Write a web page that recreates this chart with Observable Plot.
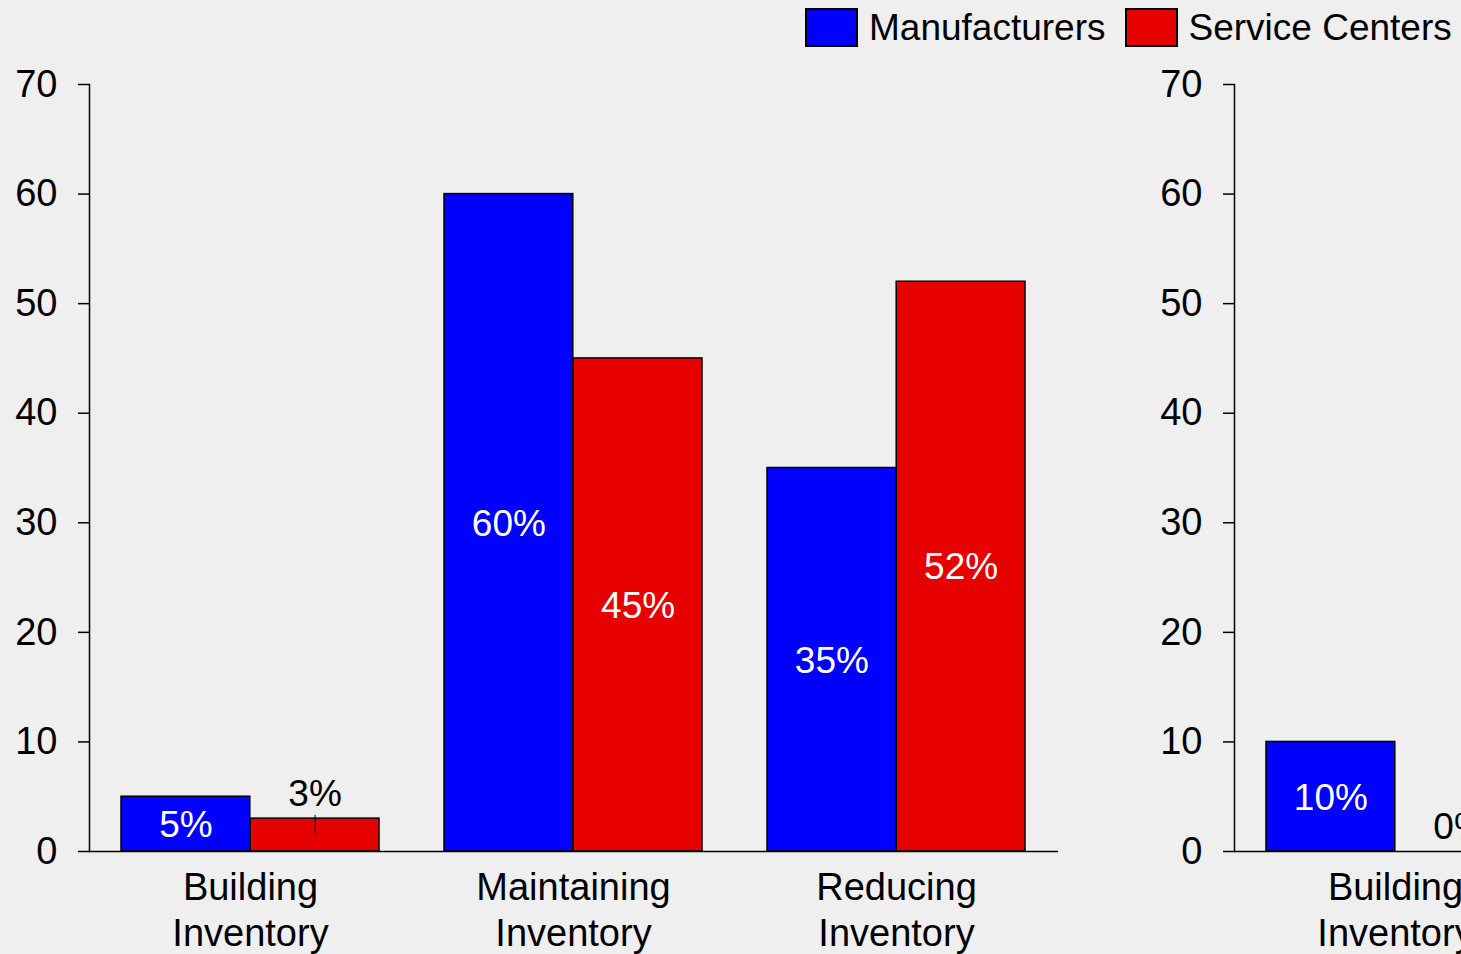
<!DOCTYPE html>
<html>
<head>
<meta charset="utf-8">
<script src="https://cdn.jsdelivr.net/npm/d3@7"></script>
<script src="https://cdn.jsdelivr.net/npm/@observablehq/plot@0.6"></script>
<style>
  html, body { margin: 0; padding: 0; background: #efefef; overflow: hidden; }
  #wrap { width: 1461px; height: 954px; overflow: hidden; position: relative; background: #efefef;
          font-family: "Liberation Sans", Arial, sans-serif; }
  #legend { height: 55px; position: relative; }
  #legend .row { position: absolute; left: 805px; top: 8px; height: 39px; display: flex; align-items: center;
                 font-size: 37px; color: #000; white-space: nowrap; }
  #legend .sw { width: 53px; height: 39px; box-sizing: border-box; border: 2px solid #000; margin-right: 11px; }
  #legend .lab { margin-right: 19px; }
  #panels { display: flex; width: 2290px; }
  #panels > div { flex: none; }
  #panels svg { max-width: none !important; display: block; }
</style>
</head>
<body>
<div id="wrap">
  <div id="legend"><div class="row" id="legendRow"></div></div>
  <div id="panels"><div id="p1"></div><div id="p2"></div></div>
</div>
<script>
// ---- data ----
const categories = ["Building Inventory", "Maintaining Inventory", "Reducing Inventory"];
const seriesNames = ["Manufacturers", "Service Centers"];
const seriesColors = ["#0000ff", "#e60000"];
const panel1Manufacturers = [5, 60, 35];
const panel1ServiceCenters = [3, 45, 52];
const panel2Categories = ["Building Inventory"];
const panel2Manufacturers = [10];
const panel2ServiceCenters = [0];
const yTicks = [0, 10, 20, 30, 40, 50, 60, 70];
const yDomain = [0, 70];

// ---- legend ----
const legendRow = document.getElementById("legendRow");
seriesNames.forEach((s, i) => {
  const sw = document.createElement("div");
  sw.className = "sw"; sw.style.background = seriesColors[i];
  const lab = document.createElement("span");
  lab.className = "lab"; lab.textContent = s;
  legendRow.appendChild(sw); legendRow.appendChild(lab);
});

// ---- panels ----
const W = 1145, H = 899, ML = 89, MR = 87, MT = 29, MB = 103;
const PI = 0.2, PO = 0.1;
const AXIS_FONT = 38, LABEL_FONT = 37;

function makePanel(cats, man, svc) {
  const rows = cats.flatMap((c, i) => [
    {category: c, series: seriesNames[0], value: man[i]},
    {category: c, series: seriesNames[1], value: svc[i]}
  ]);
  const n = categories.length;
  const step = (W - ML - MR) / (n - PI + 2 * PO);
  const bw = step * (1 - PI);
  const half = bw / 2, q = bw / 4;
  const marks = [];
  seriesNames.forEach((s, si) => {
    const data = rows.filter(d => d.series === s);
    const dx = si === 0 ? -q : q;
    marks.push(Plot.barY(data, {
      x: "category", y: "value", fill: seriesColors[si], stroke: "black", strokeWidth: 1.5,
      insetLeft: si === 0 ? 0 : half, insetRight: si === 0 ? half : 0
    }));
    marks.push(Plot.text(data.filter(d => d.value >= 4), {
      x: "category", y: d => d.value / 2, text: d => d.value + "%", dx, dy: 1,
      fill: "white", fontSize: LABEL_FONT, lineAnchor: "middle"
    }));
    marks.push(Plot.text(data.filter(d => d.value < 4), {
      x: "category", y: "value", text: d => d.value + "%", dx, dy: -24,
      fill: "black", fontSize: LABEL_FONT, lineAnchor: "middle"
    }));
    marks.push(Plot.ruleX(data.filter(d => d.value > 0 && d.value < 4), {
      x: "category", dx, y1: d => d.value - 1.4, y2: d => d.value + 0.3, stroke: "black", strokeWidth: 1
    }));
  });
  marks.push(Plot.ruleY([0], {stroke: "black", strokeWidth: 1.5}));
  marks.push(Plot.frame({anchor: "left", stroke: "black", strokeWidth: 1.5}));
  marks.push(Plot.axisY({ticks: yTicks, tickSize: 11, tickPadding: 21, fontSize: AXIS_FONT, strokeWidth: 1.5, label: null}));
  marks.push(Plot.text(categories, {
    x: d => d, frameAnchor: "bottom", text: d => d.replace(" ", "\n"),
    lineAnchor: "top", dy: 16, fontSize: AXIS_FONT, lineHeight: 1.21, fill: "black"
  }));
  return Plot.plot({
    width: W, height: H, marginLeft: ML, marginRight: MR, marginTop: MT, marginBottom: MB,
    x: {domain: categories, paddingInner: PI, paddingOuter: PO, axis: null},
    y: {domain: yDomain, axis: null},
    style: {background: "transparent", fontFamily: '"Liberation Sans", Arial, sans-serif', color: "black", overflow: "visible"},
    marks
  });
}

document.getElementById("p1").appendChild(makePanel(categories, panel1Manufacturers, panel1ServiceCenters));
document.getElementById("p2").appendChild(makePanel(panel2Categories, panel2Manufacturers, panel2ServiceCenters));
</script>
</body>
</html>
